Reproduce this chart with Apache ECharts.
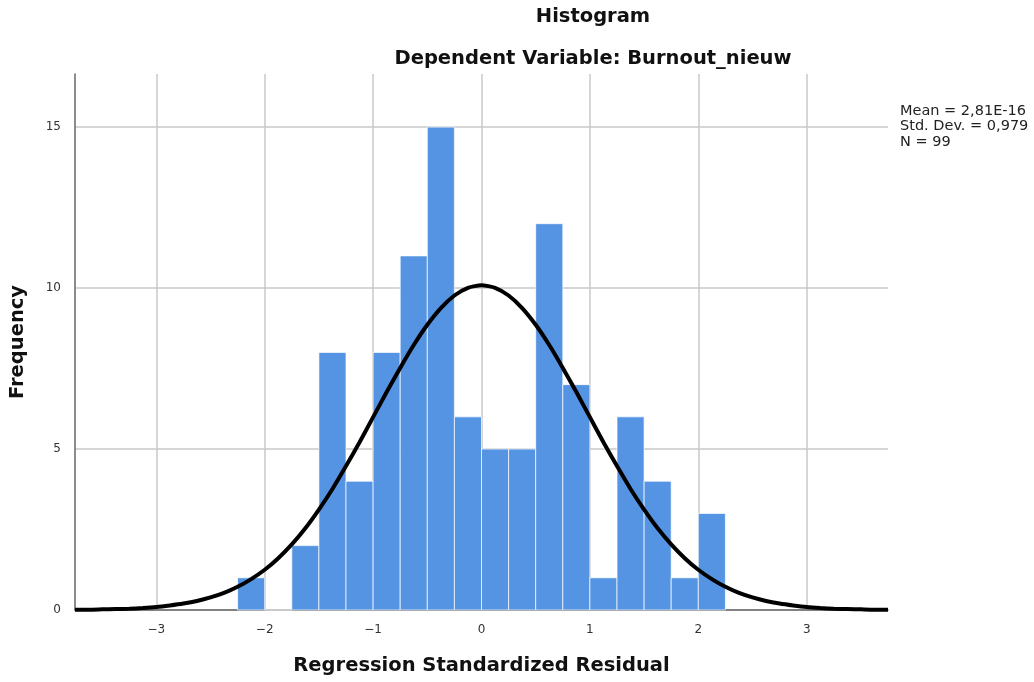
<!DOCTYPE html>
<html>
<head>
<meta charset="utf-8">
<script src="https://cdn.jsdelivr.net/npm/echarts@6/dist/echarts.min.js"></script>
<style>
  html, body { margin: 0; padding: 0; background: #fff; }
  #chart { width: 1034px; height: 682px; }
</style>
</head>
<body>
<div id="chart"></div>
<script>
(function() {
  // histogram bins (left edge, width 0.25) and counts
  var binStarts = [-2.25, -2.0, -1.75, -1.5, -1.25, -1.0, -0.75, -0.5, -0.25,
                   0.0, 0.25, 0.5, 0.75, 1.0, 1.25, 1.5, 1.75, 2.0];
  var counts = [1, 0, 2, 8, 4, 8, 11, 15, 6, 5, 5, 12, 7, 1, 6, 4, 1, 3];
  var binWidth = 0.25;

  // normal curve
  var curveX = [-3.75, -3.625, -3.5, -3.375, -3.25, -3.125, -3.0, -2.875, -2.75, -2.625,
                -2.5, -2.375, -2.25, -2.125, -2.0, -1.875, -1.75, -1.625, -1.5, -1.375,
                -1.25, -1.125, -1.0, -0.875, -0.75, -0.625, -0.5, -0.375, -0.25, -0.125,
                0.0, 0.125, 0.25, 0.375, 0.5, 0.625, 0.75, 0.875, 1.0, 1.125,
                1.25, 1.375, 1.5, 1.625, 1.75, 1.875, 2.0, 2.125, 2.25, 2.375,
                2.5, 2.625, 2.75, 2.875, 3.0, 3.125, 3.25, 3.375, 3.5, 3.625, 3.75];
  var curveY = [0.01, 0.01, 0.02, 0.03, 0.04, 0.06, 0.09, 0.14, 0.2, 0.28,
                0.39, 0.53, 0.72, 0.96, 1.25, 1.61, 2.04, 2.54, 3.12, 3.76,
                4.47, 5.21, 5.99, 6.77, 7.52, 8.23, 8.86, 9.38, 9.77, 10.01,
                10.09, 10.01, 9.77, 9.38, 8.86, 8.23, 7.52, 6.77, 5.99, 5.21,
                4.47, 3.76, 3.12, 2.54, 2.04, 1.61, 1.25, 0.96, 0.72, 0.53,
                0.39, 0.28, 0.2, 0.14, 0.09, 0.06, 0.04, 0.03, 0.02, 0.01, 0.01];

  var xTicks = [-3, -2, -1, 0, 1, 2, 3];
  var yTicks = [0, 5, 10, 15];
  var statLines = ['Mean = 2,81E-16', 'Std. Dev. = 0,979', 'N = 99'];

  var font = '"DejaVu Sans", sans-serif';
  var barData = binStarts.map(function(x, i) { return [x, x + binWidth, counts[i]]; });
  var lineData = curveX.map(function(x, i) { return [x, curveY[i]]; });

  var chart = echarts.init(document.getElementById('chart'), null, { renderer: 'canvas' });

  chart.setOption({
    backgroundColor: '#fff',
    animation: false,
    textStyle: { fontFamily: font },
    title: [
      {
        text: 'Histogram',
        left: 588, top: 2, textAlign: 'center',
        textStyle: { fontSize: 19.5, fontWeight: 'bold', color: '#111', fontFamily: font }
      },
      {
        text: 'Dependent Variable: Burnout_nieuw',
        left: 588, top: 44, textAlign: 'center',
        textStyle: { fontSize: 19.5, fontWeight: 'bold', color: '#111', fontFamily: font }
      }
    ],
    grid: { left: 75, right: 146, top: 74, bottom: 72, outerBoundsMode: 'none', containLabel: false },
    xAxis: {
      type: 'value',
      min: -3.75,
      max: 3.75,
      name: 'Regression Standardized Residual',
      nameLocation: 'middle',
      nameGap: 46,
      nameTextStyle: { fontSize: 19.5, fontWeight: 'bold', color: '#111', fontFamily: font },
      axisLine: { show: true, onZero: false, lineStyle: { color: '#666', width: 1.5 } },
      axisTick: { show: false, customValues: xTicks },
      axisLabel: {
        customValues: xTicks, margin: 14, fontSize: 12, color: '#333',
        formatter: function(v) { return v < 0 ? '\u2212' + Math.abs(v) : String(v); }
      },
      splitLine: { show: true, lineStyle: { color: '#c8c8c8', width: 1.5 } }
    },
    yAxis: {
      type: 'value',
      min: 0,
      max: 16.65,
      name: 'Frequency',
      nameLocation: 'middle',
      nameGap: 47,
      nameTextStyle: { fontSize: 19.5, fontWeight: 'bold', color: '#111', fontFamily: font },
      axisLine: { show: true, onZero: false, lineStyle: { color: '#666', width: 1.5 } },
      axisTick: { show: false, customValues: yTicks },
      axisLabel: { customValues: yTicks, margin: 14, fontSize: 12, color: '#333' },
      splitLine: { show: true, lineStyle: { color: '#c8c8c8', width: 1.5 } }
    },
    graphic: [{
      type: 'text',
      left: 900, top: 103,
      style: {
        text: statLines.join('\n'),
        font: '14.5px ' + font,
        lineHeight: 15.5,
        fill: '#222'
      }
    }],
    series: [
      {
        type: 'custom',
        data: barData,
        encode: { x: [0, 1], y: 2 },
        renderItem: function(params, api) {
          var p0 = api.coord([api.value(0), api.value(2)]);
          var p1 = api.coord([api.value(1), 0]);
          return {
            type: 'rect',
            shape: { x: p0[0], y: p0[1], width: p1[0] - p0[0], height: p1[1] - p0[1] },
            style: { fill: '#5594e2', stroke: 'rgba(255,255,255,0.7)', lineWidth: 1 }
          };
        },
        z: 2
      },
      {
        type: 'line',
        data: lineData,
        smooth: 0.2,
        showSymbol: false,
        clip: false,
        lineStyle: { color: '#000', width: 4 },
        z: 5
      }
    ]
  });

  window.addEventListener('resize', function() { chart.resize(); });
})();
</script>
</body>
</html>
